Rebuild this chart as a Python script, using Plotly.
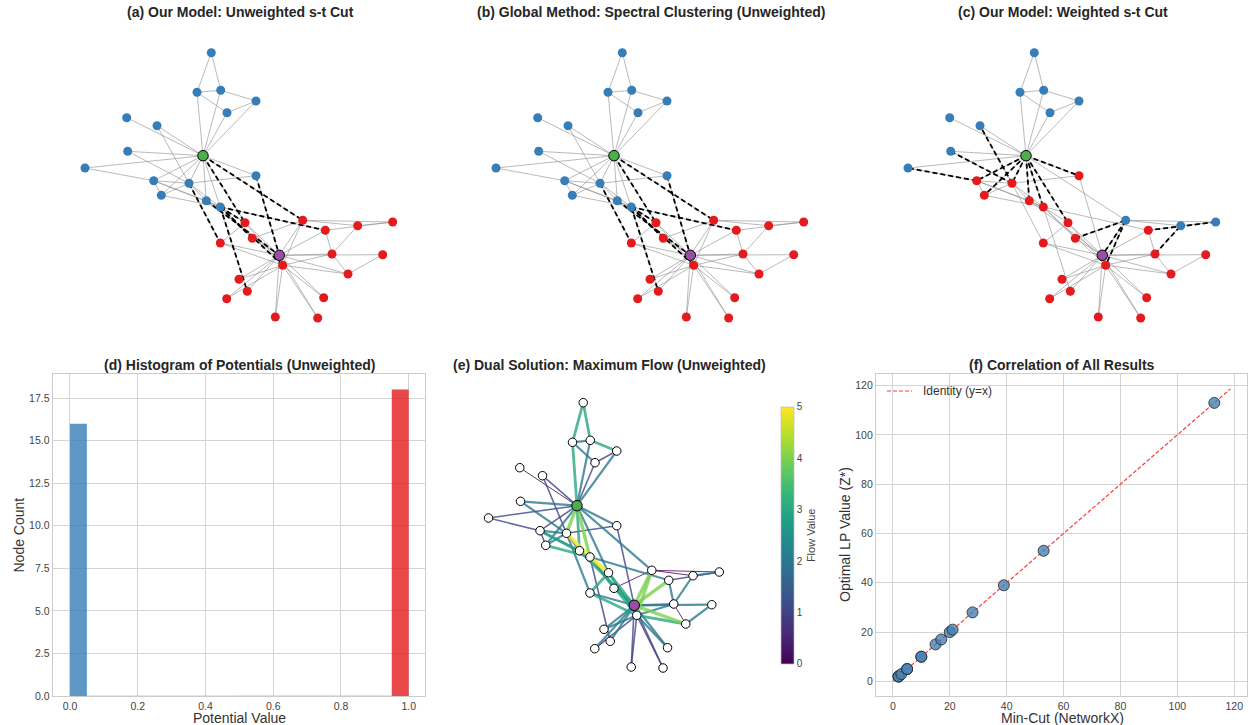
import numpy as np
import plotly.graph_objects as go
from plotly.colors import sample_colorscale

W, H = 1248, 725
FONT = "Liberation Sans, Arial, sans-serif"

# ---------------- data ----------------
# Karate-club layout positions (layout units, y grows downward)
node_x = [203.0, 189.0, 220.3, 153.7, 227.0, 220.7, 197.0, 161.3, 245.0, 247.3,
          256.0, 126.7, 85.0, 206.3, 239.0, 226.7, 211.3, 157.0, 323.7, 256.0,
          275.3, 127.7, 317.7, 332.0, 392.7, 357.7, 382.7, 325.3, 252.3, 348.0,
          220.3, 302.7, 282.7, 279.3]
node_y = [155.7, 183.3, 207.0, 180.7, 112.7, 90.3, 92.3, 195.3, 222.7, 291.3,
          101.0, 117.7, 168.0, 200.7, 279.3, 298.7, 52.7, 125.7, 297.7, 175.7,
          317.0, 151.3, 318.0, 254.0, 222.0, 225.7, 254.7, 230.3, 238.3, 274.0,
          243.0, 220.3, 265.3, 255.3]
SOURCE, SINK = 0, 33

edge_u = [0, 0, 0, 0, 0, 0, 0, 0, 0, 0, 0, 0, 0, 0, 0, 0,
          1, 1, 1, 1, 1, 1, 1, 1,
          2, 2, 2, 2, 2, 2, 2, 2,
          3, 3, 3, 4, 4, 5, 5, 5, 6,
          8, 8, 8, 9, 13, 14, 14, 15, 15, 18, 18, 19, 20, 20, 22, 22,
          23, 23, 23, 23, 23, 24, 24, 24, 25, 26, 26, 27, 28, 28,
          29, 29, 30, 30, 31, 31, 32]
edge_v = [1, 2, 3, 4, 5, 6, 7, 8, 10, 11, 12, 13, 17, 19, 21, 31,
          2, 3, 7, 13, 17, 19, 21, 30,
          3, 7, 8, 9, 13, 27, 28, 32,
          7, 12, 13, 6, 10, 6, 10, 16, 16,
          30, 32, 33, 33, 33, 32, 33, 32, 33, 32, 33, 33, 32, 33, 32, 33,
          25, 27, 29, 32, 33, 25, 27, 31, 31, 29, 33, 33, 31, 33,
          32, 33, 32, 33, 32, 33, 33]
# dual solution: flow on each edge
edge_flow = [4, 4, 1, 1, 2, 3, 2, 2, 2, 0, 1, 3, 1, 2, 2, 2,
             5, 2, 2, 2, 1, 1, 2, 2,
             3, 3, 5, 1, 2, 2, 2, 3,
             1, 1, 2, 2, 1, 2, 3, 3, 3,
             3, 2, 3, 2, 3, 2, 2, 1, 2, 2, 2, 1, 1, 1, 1, 1,
             2, 2, 0, 2, 2, 2, 1, 0, 0, 2, 2, 4, 0, 2,
             3, 4, 3, 2, 4, 4, 3]

# source-side node sets for each partition
source_side_a = [0, 1, 2, 3, 4, 5, 6, 7, 10, 11, 12, 13, 16, 17, 19, 21]
source_side_b = [0, 1, 2, 3, 4, 5, 6, 7, 10, 11, 12, 13, 16, 17, 19, 21]
source_side_c = [0, 4, 5, 6, 10, 11, 12, 16, 17, 21, 24, 25, 31]

# correlation of all results
mincut_values = [2, 2, 2, 3, 5, 5, 10, 10, 15, 17, 20, 21, 28, 39, 53, 113]
lp_values = [2, 2, 2, 3, 5, 5, 10, 10, 15, 17, 20, 21, 28, 39, 53, 113]

hist_xticks = [0.0, 0.2, 0.4, 0.6, 0.8, 1.0]
hist_yticks = [0.0, 2.5, 5.0, 7.5, 10.0, 12.5, 15.0, 17.5]
corr_ticks = [0, 20, 40, 60, 80, 100, 120]
flow_ticks = [0, 1, 2, 3, 4, 5]

BLUE, RED, GREEN, PURPLE = "#377eb8", "#e41a1c", "#4daf4a", "#984ea3"
IDENTITY_COLOR = "#ff3b3b"


def px_x(p):
    return p / W


def px_y(p):
    return 1 - p / H


def segs(pairs):
    xs, ys = [], []
    for u, v in pairs:
        xs += [node_x[u], node_x[v], None]
        ys += [node_y[u], node_y[v], None]
    return xs, ys


fig = go.Figure()
edges = list(zip(edge_u, edge_v))

# ---------------- panels a, b, c ----------------
for k, side in enumerate([source_side_a, source_side_b, source_side_c]):
    ax = "" if k == 0 else str(k + 1)
    xa, ya = "x" + ax, "y" + ax
    S = set(side)
    ex, ey = segs(edges)
    fig.add_trace(go.Scatter(x=ex, y=ey, mode="lines", xaxis=xa, yaxis=ya,
                             line=dict(color="rgba(140,140,140,0.6)", width=1),
                             hoverinfo="skip", showlegend=False))
    cut = [(u, v) for u, v in edges if (u in S) != (v in S)]
    cx, cy = segs(cut)
    fig.add_trace(go.Scatter(x=cx, y=cy, mode="lines", xaxis=xa, yaxis=ya,
                             line=dict(color="black", width=1.8, dash="5px,3px"),
                             hoverinfo="skip", showlegend=False))
    blue = [i for i in range(34) if i in S and i not in (SOURCE, SINK)]
    red = [i for i in range(34) if i not in S and i not in (SOURCE, SINK)]
    for grp, col in [(blue, BLUE), (red, RED)]:
        fig.add_trace(go.Scatter(x=[node_x[i] for i in grp], y=[node_y[i] for i in grp],
                                 mode="markers", xaxis=xa, yaxis=ya,
                                 marker=dict(size=9, color=col),
                                 hoverinfo="skip", showlegend=False))
    fig.add_trace(go.Scatter(x=[node_x[SOURCE], node_x[SINK]], y=[node_y[SOURCE], node_y[SINK]],
                             mode="markers", xaxis=xa, yaxis=ya,
                             marker=dict(size=10.5, color=[GREEN, PURPLE],
                                         line=dict(color="black", width=1)),
                             hoverinfo="skip", showlegend=False))

# ---------------- panel d: histogram ----------------
pot = np.array([0.0 if i in set(source_side_a) else 1.0 for i in range(34)])
bins_lo = np.linspace(0, 0.5, 11)
bins_hi = np.linspace(0.5, 1.0, 11)
c_lo, _ = np.histogram(pot[pot < 0.5], bins=bins_lo)
c_hi, _ = np.histogram(pot[pot >= 0.5], bins=bins_hi)
for counts, edges_b, col in [(c_lo, bins_lo, BLUE), (c_hi, bins_hi, RED)]:
    centers = (edges_b[:-1] + edges_b[1:]) / 2
    nz = counts > 0
    fig.add_trace(go.Bar(x=centers[nz], y=counts[nz], width=0.05, xaxis="x4", yaxis="y4",
                         marker=dict(color=col, line=dict(width=0)), opacity=0.8,
                         hoverinfo="skip", showlegend=False))
    z = np.where(~nz)[0]
    fig.add_trace(go.Scatter(x=[edges_b[z[0]], edges_b[z[-1] + 1]], y=[0, 0], mode="lines",
                             xaxis="x4", yaxis="y4", line=dict(color=col, width=1.2),
                             opacity=0.35, hoverinfo="skip", showlegend=False))

# ---------------- panel e: flow network ----------------
order = np.argsort(edge_flow, kind="stable")
for f in sorted(set(edge_flow)):
    pairs = [edges[i] for i in order if edge_flow[i] == f]
    rgb = sample_colorscale("Viridis", [f / 5])[0]
    r, g, b = [int(float(t)) for t in rgb[rgb.index("(") + 1:-1].split(",")]
    ex, ey = segs(pairs)
    fig.add_trace(go.Scatter(x=ex, y=ey, mode="lines", xaxis="x5", yaxis="y5",
                             line=dict(color=f"rgba({r},{g},{b},0.8)", width=1 + 0.6 * f),
                             hoverinfo="skip", showlegend=False))
others = [i for i in range(34) if i not in (SOURCE, SINK)]
fig.add_trace(go.Scatter(x=[node_x[i] for i in others], y=[node_y[i] for i in others],
                         mode="markers", xaxis="x5", yaxis="y5",
                         marker=dict(size=8.5, color="white", line=dict(color="black", width=1)),
                         hoverinfo="skip", showlegend=False))
fig.add_trace(go.Scatter(x=[node_x[SOURCE], node_x[SINK]], y=[node_y[SOURCE], node_y[SINK]],
                         mode="markers", xaxis="x5", yaxis="y5",
                         marker=dict(size=10.5, color=[GREEN, PURPLE],
                                     line=dict(color="black", width=1)),
                         hoverinfo="skip", showlegend=False))
# colorbar carrier
fig.add_trace(go.Scatter(x=[node_x[SOURCE]], y=[node_y[SOURCE]], mode="markers",
                         xaxis="x5", yaxis="y5",
                         marker=dict(size=0.1, color=[0], cmin=0, cmax=5, colorscale="Viridis",
                                     showscale=True,
                                     colorbar=dict(x=px_x(781), xanchor="left",
                                                   y=px_y(535.3), yanchor="middle",
                                                   lenmode="pixels", len=257,
                                                   thickness=13, thicknessmode="pixels",
                                                   xpad=0, ypad=0,
                                                   outlinewidth=0.7, outlinecolor="#bbbbbb",
                                                   tickvals=flow_ticks, ticks="",
                                                   tickfont=dict(size=10, color="#444", family=FONT),
                                                   title=dict(text="Flow Value", side="right",
                                                              font=dict(size=11, color="#444", family=FONT)))),
                         hoverinfo="skip", showlegend=False))

# ---------------- panel f: correlation ----------------
lim = max(max(mincut_values), max(lp_values)) * 1.05
fig.add_trace(go.Scatter(x=[0, lim], y=[0, lim], mode="lines", xaxis="x6", yaxis="y6",
                         line=dict(color=IDENTITY_COLOR, width=1.2, dash="4px,2px"),
                         name="Identity (y=x)", showlegend=False, hoverinfo="skip"))
fig.add_trace(go.Scatter(x=mincut_values, y=lp_values, mode="markers", xaxis="x6", yaxis="y6",
                         marker=dict(size=11, color="rgba(70,130,180,0.8)",
                                     line=dict(color="#222", width=0.8)),
                         showlegend=False, hoverinfo="skip"))

# ---------------- layout ----------------
hidden = dict(visible=False, showgrid=False, zeroline=False)
grid_ax = dict(showgrid=True, gridcolor="#d4d4d4", gridwidth=1, showline=True, mirror=True,
               linecolor="#cccccc", linewidth=1.2, zeroline=False, ticks="",
               tickfont=dict(size=10.5, color="#444", family=FONT))

layout = dict(
    width=W, height=H, margin=dict(l=0, r=0, t=0, b=0),
    template="none", paper_bgcolor="white", plot_bgcolor="white",
    font=dict(family=FONT, color="#262626"),
    barmode="overlay", showlegend=False,
    xaxis=dict(domain=[px_x(60), px_x(420)], range=[60, 420], anchor="y", **hidden),
    yaxis=dict(domain=[px_y(330), px_y(30)], range=[330, 30], anchor="x", **hidden),
    xaxis2=dict(domain=[px_x(471), px_x(831)], range=[60, 420], anchor="y2", **hidden),
    yaxis2=dict(domain=[px_y(330), px_y(30)], range=[330, 30], anchor="x2", **hidden),
    xaxis3=dict(domain=[px_x(883), px_x(1243)], range=[60, 420], anchor="y3", **hidden),
    yaxis3=dict(domain=[px_y(330), px_y(30)], range=[330, 30], anchor="x3", **hidden),
    xaxis5=dict(domain=[px_x(470), px_x(760)], range=[60.33, 447], anchor="y5", **hidden),
    yaxis5=dict(domain=[px_y(680), px_y(380)], range=[330, 30], anchor="x5", **hidden),
    xaxis4=dict(domain=[px_x(52.7), px_x(425.3)], range=[-0.051, 1.049], anchor="y4",
                tickvals=hist_xticks, tickformat=".1f", **grid_ax),
    yaxis4=dict(domain=[px_y(696), px_y(374.3)], range=[0, 18.9], anchor="x4",
                tickvals=hist_yticks, tickformat=".1f", **grid_ax),
    xaxis6=dict(domain=[px_x(876), px_x(1247.3)], range=[-5.93, 124.6], anchor="y6",
                tickvals=corr_ticks, **grid_ax),
    yaxis6=dict(domain=[px_y(696), px_y(374.3)], range=[-5.93, 124.6], anchor="x6",
                tickvals=corr_ticks, **grid_ax),
)
fig.update_layout(**layout)

# legend of panel f (drawn as a key: dashed sample + label)
fig.add_shape(type="line", xref="paper", yref="paper",
              x0=px_x(887), x1=px_x(912), y0=px_y(391), y1=px_y(391),
              line=dict(color=IDENTITY_COLOR, width=1.2, dash="4px,2px"))
fig.add_annotation(text="Identity (y=x)", x=px_x(921), y=px_y(391), xref="paper", yref="paper",
                   showarrow=False, xanchor="left", yanchor="middle",
                   font=dict(size=12, color="#333", family=FONT))

titles = [
    ("(a) Our Model: Unweighted s-t Cut", 240, 12),
    ("(b) Global Method: Spectral Clustering (Unweighted)", 651, 12),
    ("(c) Our Model: Weighted s-t Cut", 1063, 12),
    ("(d) Histogram of Potentials (Unweighted)", 239, 365),
    ("(e) Dual Solution: Maximum Flow (Unweighted)", 609, 365),
    ("(f) Correlation of All Results", 1062, 365),
]
for text, cx, cy in titles:
    fig.add_annotation(text=f"<b>{text}</b>", x=px_x(cx), y=px_y(cy), xref="paper", yref="paper",
                       showarrow=False, xanchor="center", yanchor="middle",
                       font=dict(size=14, color="#262626", family=FONT))

axis_titles = [
    ("Potential Value", 239, 717.5, 0),
    ("Node Count", 18.5, 535, -90),
    ("Min-Cut (NetworkX)", 1062, 717.5, 0),
    ("Optimal LP Value (Z*)", 845, 535, -90),
]
for text, cx, cy, ang in axis_titles:
    fig.add_annotation(text=text, x=px_x(cx), y=px_y(cy), xref="paper", yref="paper",
                       showarrow=False, xanchor="center", yanchor="middle", textangle=ang,
                       font=dict(size=14, color="#333", family=FONT))

fig.write_html("out.html", config={"displayModeBar": False},
               post_script="document.body.style.margin='0px';"
                           "document.body.style.padding='0px';"
                           "document.body.style.overflow='hidden';")
